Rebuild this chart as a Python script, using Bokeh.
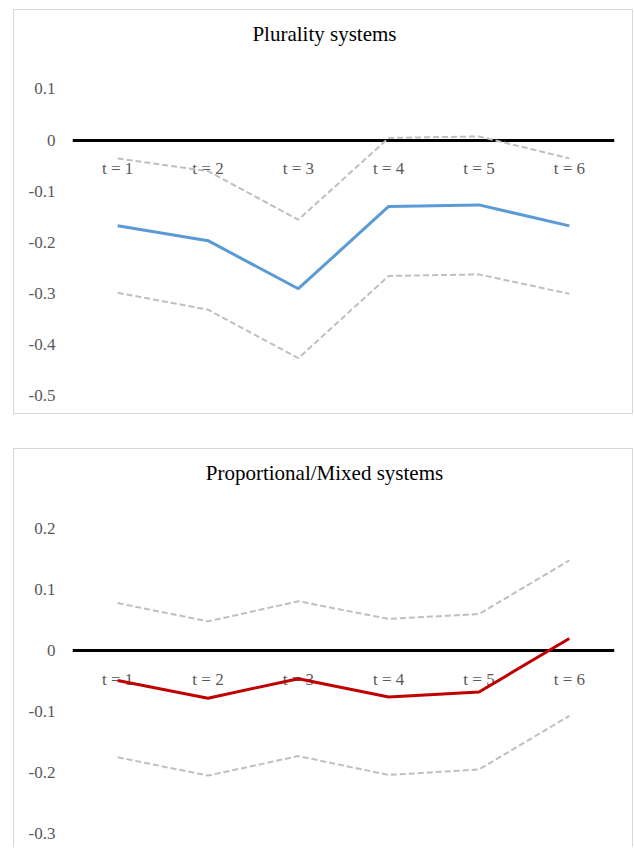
from bokeh.plotting import figure
from bokeh.layouts import column
from bokeh.models import FactorRange, Range1d, FixedTicker, CustomJSTickFormatter, Label
from bokeh.embed import file_html
from bokeh.resources import INLINE

# ---- data ----
categories = ["t = 1", "t = 2", "t = 3", "t = 4", "t = 5", "t = 6"]

plurality_est = [-0.168, -0.197, -0.291, -0.130, -0.127, -0.168]
plurality_upper = [-0.036, -0.061, -0.156, 0.004, 0.007, -0.036]
plurality_lower = [-0.299, -0.332, -0.427, -0.266, -0.263, -0.301]
plurality_ticks = [-0.5, -0.4, -0.3, -0.2, -0.1, 0.0, 0.1]

pr_est = [-0.049, -0.078, -0.046, -0.076, -0.068, 0.020]
pr_upper = [0.078, 0.048, 0.081, 0.052, 0.060, 0.148]
pr_lower = [-0.175, -0.205, -0.173, -0.204, -0.195, -0.107]
pr_ticks = [-0.3, -0.2, -0.1, 0.0, 0.1, 0.2]

FONT = "Liberation Serif"
LABEL_COLOR = "#595959"
FRAME_W = 540          # plot-area width in px
TITLE_FROM_TOP = 23    # px from chart top edge to title centre
TITLE_X_PX = 251       # px from plot-area left edge to title centre


def make_panel(title, est, upper, lower, color, ticks, top_pad, axis_h, mbb, styles):
    lo, hi = min(ticks), max(ticks)
    per_px = (hi - lo) / axis_h
    y_top = hi + top_pad * per_px          # extend frame up to hold the title
    p = figure(
        x_range=FactorRange(*categories),
        y_range=Range1d(lo, y_top),
        frame_width=FRAME_W, frame_height=axis_h + top_pad,
        min_border_left=58, min_border_right=20,
        min_border_top=0, min_border_bottom=mbb,
        output_backend="svg", toolbar_location=None,
    )
    p.styles = styles
    p.outline_line_color = None
    p.background_fill_color = "white"
    p.border_fill_color = "white"
    p.xgrid.visible = False
    p.ygrid.visible = False

    # chart title, centred over the whole chart box
    n = len(categories)
    p.add_layout(Label(
        x=TITLE_X_PX * n / FRAME_W, y=y_top - TITLE_FROM_TOP * per_px,
        text=title, text_font=FONT, text_font_size="21px",
        text_color="black", text_align="center", text_baseline="middle",
    ))

    # category axis crossing at zero
    xa = p.xaxis[0]
    xa.fixed_location = 0
    xa.axis_line_color = "black"
    xa.axis_line_width = 3
    xa.major_tick_line_color = None
    xa.major_tick_out = 0
    xa.major_tick_in = 0
    xa.major_label_standoff = 19
    xa.major_label_text_font = FONT
    xa.major_label_text_font_size = "17px"
    xa.major_label_text_color = LABEL_COLOR
    xa.level = "underlay"

    ya = p.yaxis[0]
    ya.ticker = FixedTicker(ticks=ticks)
    ya.formatter = CustomJSTickFormatter(
        code="return Math.abs(tick) < 1e-9 ? '0' : tick.toFixed(1);")
    ya.axis_line_color = None
    ya.major_tick_line_color = None
    ya.minor_tick_line_color = None
    ya.major_tick_out = 0
    ya.major_tick_in = 0
    ya.major_label_standoff = 17
    ya.major_label_text_font = FONT
    ya.major_label_text_font_size = "17px"
    ya.major_label_text_color = LABEL_COLOR

    p.line(categories, upper, line_color="#BFBFBF", line_width=2, line_dash="6 3")
    p.line(categories, lower, line_color="#BFBFBF", line_width=2, line_dash="6 3")
    p.line(categories, est, line_color=color, line_width=3)
    return p


p1 = make_panel("Plurality systems", plurality_est, plurality_upper, plurality_lower,
                "#5B9BD5", plurality_ticks, 78, 305, 20,
                {"border": "1px solid #d9d9d9"})
p2 = make_panel("Proportional/Mixed systems", pr_est, pr_upper, pr_lower,
                "#C00000", pr_ticks, 79, 304, 15,
                {"border": "1px solid #d9d9d9", "border-bottom": "none"})

layout = column(p1, p2, spacing=34, margin=(9, 0, 0, 13))

open("out.html", "w").write(file_html(layout, INLINE))
